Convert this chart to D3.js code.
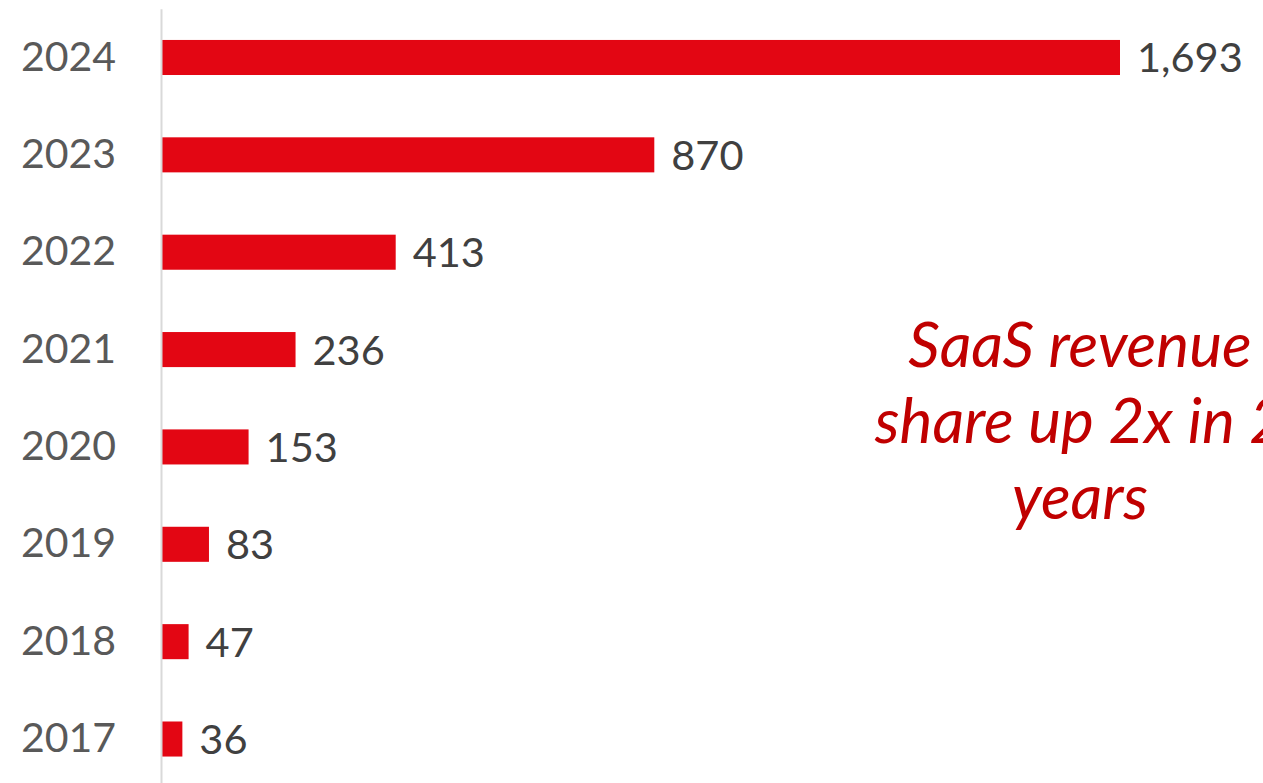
<!DOCTYPE html>
<html>
<head>
    <meta charset="utf-8">
    <style>
        body { margin: 0; background: #fff; overflow: hidden; }
    </style>
</head>
<body>
    <svg width="1263" height="783"></svg>
    <script src="https://d3js.org/d3.v7.min.js"></script>
    <script>
        // data
        var years = ["2024", "2023", "2022", "2021", "2020", "2019", "2018", "2017"];
        var values = [1693, 870, 413, 236, 153, 83, 47, 36];
        var noteLines = ["SaaS revenue", "share up 2x in 2", "years"];

        var data = years.map(function (y, i) { return { year: y, value: values[i] }; });

        var svg = d3.select("svg");
        var fontFam = "Lato, 'Open Sans', sans-serif";

        var x = d3.scaleLinear().domain([0, 1693]).range([162, 1120]);
        var y = d3.scaleBand().domain(years).range([8.8, 787.7])
            .paddingInner(0.64).paddingOuter(0.32);

        // bars
        svg.append("g")
            .selectAll("rect")
            .data(data)
            .enter()
            .append("rect")
            .attr("x", x(0))
            .attr("y", function (d) { return y(d.year); })
            .attr("width", function (d) { return x(d.value) - x(0); })
            .attr("height", y.bandwidth())
            .style("fill", "#E30613");

        // left axis
        var axis = svg.append("g")
            .attr("transform", "translate(161,0)")
            .call(d3.axisLeft(y).tickSize(0).tickPadding(45));
        axis.select(".domain").style("stroke", "#D9D9D9").style("stroke-width", 2);
        axis.selectAll("text")
            .style("font-family", fontFam)
            .style("font-size", "41px")
            .style("fill", "#595959");

        // value labels
        svg.append("g")
            .selectAll("text")
            .data(data)
            .enter()
            .append("text")
            .attr("x", function (d) { return x(d.value) + 17; })
            .attr("y", function (d) { return y(d.year) + y.bandwidth() / 2; })
            .attr("dy", "0.36em")
            .style("font-family", fontFam)
            .style("font-size", "41.5px")
            .style("fill", "#404040")
            .text(function (d) { return d3.format(",")(d.value); });

        // annotation
        svg.append("g")
            .selectAll("text")
            .data(noteLines)
            .enter()
            .append("text")
            .attr("x", 1080)
            .attr("y", function (d, i) { return 367 + i * 76; })
            .attr("text-anchor", "middle")
            .style("font-family", fontFam)
            .style("font-style", "italic")
            .style("font-size", "62px")
            .style("fill", "#C00000")
            .text(function (d) { return d; });
    </script>
</body>
</html>
